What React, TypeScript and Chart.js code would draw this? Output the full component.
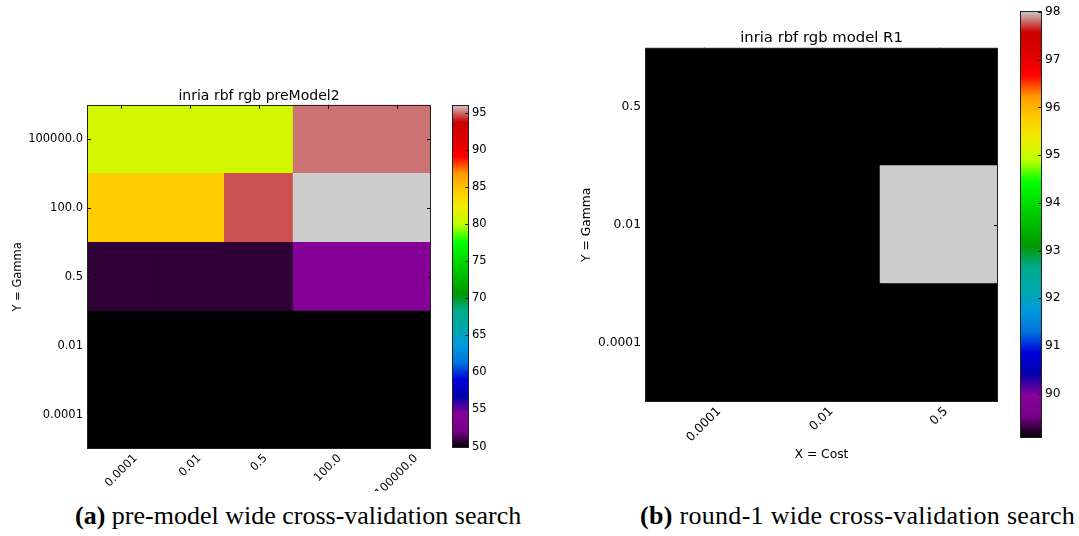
import React, { useEffect, useRef } from 'react';
import { Chart, registerables } from 'chart.js';

Chart.register(...registerables);

// ---- Panel (a): pre-model search ----
const costLabelsA = ['0.0001', '0.01', '0.5', '100.0', '100000.0'];
const gammaLabelsA = ['0.0001', '0.01', '0.5', '100.0', '100000.0']; // bottom -> top
// accuracy (%) per gamma row, columns follow costLabelsA
const accA_gamma0_0001 = [49.8, 49.8, 49.8, 49.8, 49.8];
const accA_gamma0_01 = [49.8, 49.8, 49.8, 49.8, 49.8];
const accA_gamma0_5 = [50.7, 50.7, 50.7, 54.0, 54.0];
const accA_gamma100 = [84.5, 84.5, 94.7, 96.1, 96.1];
const accA_gamma100000 = [81.0, 81.0, 81.0, 95.1, 95.1];
const colorbarTicksA = [50, 55, 60, 65, 70, 75, 80, 85, 90, 95];

// ---- Panel (b): round-1 search ----
const costLabelsB = ['0.0001', '0.01', '0.5'];
const gammaLabelsB = ['0.0001', '0.01', '0.5']; // bottom -> top
const accB_gamma0_0001 = [89.07, 89.07, 89.07];
const accB_gamma0_01 = [89.07, 89.07, 98.02];
const accB_gamma0_5 = [89.07, 89.07, 89.07];
const colorbarTicksB = [90, 91, 92, 93, 94, 95, 96, 97, 98];

const FONT = '"DejaVu Sans", sans-serif';

// nipy_spectral colormap control points: [t, r, g, b]
const NIPY: number[][] = [
  [0.0, 0.0, 0.0, 0.0],
  [0.05, 0.4667, 0.0, 0.5333],
  [0.1, 0.5333, 0.0, 0.6],
  [0.15, 0.0, 0.0, 0.6667],
  [0.2, 0.0, 0.0, 0.8667],
  [0.25, 0.0, 0.4667, 0.8667],
  [0.3, 0.0, 0.6, 0.8667],
  [0.35, 0.0, 0.6667, 0.6667],
  [0.4, 0.0, 0.6667, 0.5333],
  [0.45, 0.0, 0.6, 0.0],
  [0.5, 0.0, 0.7333, 0.0],
  [0.55, 0.0, 0.8667, 0.0],
  [0.6, 0.0, 1.0, 0.0],
  [0.65, 0.7333, 1.0, 0.0],
  [0.7, 0.9333, 0.9333, 0.0],
  [0.75, 1.0, 0.8, 0.0],
  [0.8, 1.0, 0.6, 0.0],
  [0.85, 1.0, 0.0, 0.0],
  [0.9, 0.8667, 0.0, 0.0],
  [0.95, 0.8, 0.0, 0.0],
  [1.0, 0.8, 0.8, 0.8],
];

const rgb = (r: number, g: number, b: number) =>
  `rgb(${Math.round(r * 255)},${Math.round(g * 255)},${Math.round(b * 255)})`;

function nipySpectral(t: number): string {
  const u = Math.max(0, Math.min(1, t));
  for (let i = 1; i < NIPY.length; i++) {
    const p = NIPY[i - 1];
    const q = NIPY[i];
    if (u <= q[0]) {
      const k = (u - p[0]) / (q[0] - p[0]);
      return rgb(p[1] + (q[1] - p[1]) * k, p[2] + (q[2] - p[2]) * k, p[3] + (q[3] - p[3]) * k);
    }
  }
  const l = NIPY[NIPY.length - 1];
  return rgb(l[1], l[2], l[3]);
}

// frame, inward tick marks and rotated cost labels for a heatmap
const heatmapDecor = {
  id: 'heatmapDecor',
  afterDraw(chart: any, _args: any, opts: any) {
    const { ctx, chartArea: a, scales } = chart;
    const x = scales.x;
    const y = scales.y;
    ctx.save();
    ctx.strokeStyle = '#000';
    ctx.lineWidth = 1;
    ctx.beginPath();
    opts.labels.forEach((_l: string, i: number) => {
      const px = Math.round(x.getPixelForValue(i)) + 0.5;
      ctx.moveTo(px, a.bottom);
      ctx.lineTo(px, a.bottom - 4);
      ctx.moveTo(px, a.top);
      ctx.lineTo(px, a.top + 4);
    });
    y.ticks.forEach((t: any) => {
      const py = Math.round(y.getPixelForValue(t.value)) + 0.5;
      ctx.moveTo(a.left, py);
      ctx.lineTo(a.left + 4, py);
      ctx.moveTo(a.right, py);
      ctx.lineTo(a.right - 4, py);
    });
    ctx.stroke();
    ctx.strokeStyle = '#222';
    ctx.strokeRect(Math.round(a.left) + 0.5, Math.round(a.top) + 0.5, Math.round(a.width) - 1, Math.round(a.height) - 1);

    const f = opts.tickSize;
    ctx.font = `${f}px ${FONT}`;
    ctx.fillStyle = '#000';
    ctx.textAlign = 'center';
    ctx.textBaseline = 'middle';
    opts.labels.forEach((lab: string, i: number) => {
      const w = ctx.measureText(lab).width;
      const cx = x.getPixelForValue(i);
      const cy = a.bottom + opts.labelPad + ((w + f) * Math.SQRT1_2) / 2;
      ctx.save();
      ctx.translate(cx, cy);
      ctx.rotate(-Math.PI / 4);
      ctx.fillText(lab, 0, 0);
      ctx.restore();
    });
    ctx.restore();
  },
};

// outline and inward ticks of a colorbar
const colorbarDecor = {
  id: 'colorbarDecor',
  afterDraw(chart: any, _args: any, opts: any) {
    const { ctx, chartArea: a, scales } = chart;
    const y = scales.y;
    ctx.save();
    ctx.strokeStyle = '#222';
    ctx.lineWidth = 1;
    ctx.beginPath();
    opts.ticks.forEach((v: number) => {
      const py = Math.round(y.getPixelForValue(v)) + 0.5;
      ctx.moveTo(a.right, py);
      ctx.lineTo(a.right - 4, py);
    });
    ctx.stroke();
    ctx.strokeRect(Math.round(a.left) + 0.5, Math.round(a.top) + 0.5, Math.round(a.width) - 1, Math.round(a.height) - 1);
    ctx.restore();
  },
};

type Box = { left: number; top: number; width: number; height: number };

type HeatmapProps = {
  box: Box;
  costLabels: string[];
  gammaLabels: string[];
  rows: number[][];
  title: string;
  titleSize: number;
  titlePad: { top: number; bottom: number };
  tickSize: number;
  yTitlePad: number;
  xTitle?: string;
  xTitlePad?: number;
  axisWidth: number;
  xAxisHeight: number;
  padRight: number;
  labelPad: number;
};

function Heatmap(p: HeatmapProps) {
  const ref = useRef<HTMLCanvasElement>(null);
  useEffect(() => {
    const all = p.rows.flat();
    const vmin = Math.min(...all);
    const vmax = Math.max(...all);
    const datasets = p.rows.map((row, r) => ({
      label: p.gammaLabels[r],
      data: row.map(() => 1),
      backgroundColor: row.map((v) => nipySpectral((v - vmin) / (vmax - vmin))),
      borderWidth: 0,
      inflateAmount: 0.6,
      barPercentage: 1,
      categoryPercentage: 1,
      stack: 'grid',
    }));
    const chart = new Chart(ref.current as HTMLCanvasElement, {
      type: 'bar',
      data: { labels: p.costLabels, datasets },
      plugins: [heatmapDecor],
      options: {
        animation: false,
        responsive: false,
        maintainAspectRatio: false,
        layout: { padding: { left: 0, right: p.padRight, top: 0, bottom: 0 } },
        plugins: {
          legend: { display: false },
          tooltip: { enabled: false },
          title: {
            display: true,
            fullSize: false,
            text: p.title,
            color: '#000',
            font: { family: FONT, size: p.titleSize, weight: 'normal' },
            padding: p.titlePad,
          },
          heatmapDecor: { labels: p.costLabels, tickSize: p.tickSize, labelPad: p.labelPad },
        } as any,
        scales: {
          x: {
            type: 'category',
            stacked: true,
            grid: { display: false, drawTicks: false },
            border: { display: false },
            ticks: { display: false },
            title: {
              display: !!p.xTitle,
              text: p.xTitle || '',
              color: '#000',
              font: { family: FONT, size: p.tickSize },
              padding: { top: 0, bottom: p.xTitlePad || 0 },
            },
            afterFit: (s: any) => {
              s.height = p.xAxisHeight;
            },
          },
          y: {
            type: 'linear',
            stacked: true,
            min: 0,
            max: p.gammaLabels.length,
            grid: { display: false, drawTicks: false },
            border: { display: false },
            afterBuildTicks: (axis: any) => {
              axis.ticks = p.gammaLabels.map((_g, i) => ({ value: i + 0.5 }));
            },
            ticks: {
              autoSkip: false,
              color: '#000',
              padding: 4,
              font: { family: FONT, size: p.tickSize },
              callback: (_v: any, i: number) => p.gammaLabels[i],
            },
            title: {
              display: true,
              text: 'Y = Gamma',
              color: '#000',
              font: { family: FONT, size: p.tickSize },
              padding: { top: p.yTitlePad, bottom: 0 },
            },
            afterFit: (s: any) => {
              s.width = p.axisWidth;
            },
          },
        } as any,
      },
    });
    return () => chart.destroy();
  }, []);
  return (
    <canvas
      ref={ref}
      width={p.box.width}
      height={p.box.height}
      style={{ position: 'absolute', left: p.box.left, top: p.box.top, width: p.box.width, height: p.box.height }}
    />
  );
}

type ColorbarProps = {
  box: Box;
  rows: number[][];
  ticks: number[];
  tickSize: number;
  padTop: number;
  padBottom: number;
  axisWidth: number;
};

function Colorbar(p: ColorbarProps) {
  const ref = useRef<HTMLCanvasElement>(null);
  useEffect(() => {
    const all = p.rows.flat();
    const vmin = Math.min(...all);
    const vmax = Math.max(...all);
    const chart = new Chart(ref.current as HTMLCanvasElement, {
      type: 'bar',
      data: {
        labels: [''],
        datasets: [
          {
            data: [[vmin, vmax]] as any,
            borderWidth: 0,
            barPercentage: 1,
            categoryPercentage: 1,
            backgroundColor: (c: any) => {
              const a = c.chart.chartArea;
              if (!a) return '#000';
              const g = c.chart.ctx.createLinearGradient(0, a.bottom, 0, a.top);
              NIPY.forEach((s) => g.addColorStop(s[0], rgb(s[1], s[2], s[3])));
              return g;
            },
          },
        ],
      },
      plugins: [colorbarDecor],
      options: {
        animation: false,
        responsive: false,
        maintainAspectRatio: false,
        layout: { padding: { left: 0, right: 0, top: p.padTop, bottom: p.padBottom } },
        plugins: {
          legend: { display: false },
          tooltip: { enabled: false },
          colorbarDecor: { ticks: p.ticks },
        } as any,
        scales: {
          x: { display: false },
          y: {
            position: 'right',
            min: vmin,
            max: vmax,
            grid: { display: false, drawTicks: false },
            border: { display: false },
            afterBuildTicks: (axis: any) => {
              axis.ticks = p.ticks.map((v) => ({ value: v }));
            },
            ticks: {
              autoSkip: false,
              color: '#000',
              padding: 3,
              font: { family: FONT, size: p.tickSize },
              callback: (v: any) => String(v),
            },
            afterFit: (s: any) => {
              s.width = p.axisWidth;
            },
          },
        } as any,
      },
    });
    return () => chart.destroy();
  }, []);
  return (
    <canvas
      ref={ref}
      width={p.box.width}
      height={p.box.height}
      style={{ position: 'absolute', left: p.box.left, top: p.box.top, width: p.box.width, height: p.box.height }}
    />
  );
}

const captionStyle: React.CSSProperties = {
  position: 'absolute',
  top: 502.5,
  fontFamily: '"Liberation Serif", "Times New Roman", serif',
  fontSize: 26,
  lineHeight: '26px',
  whiteSpace: 'nowrap',
  color: '#000',
};

export default function App() {
  const rowsA = [accA_gamma0_0001, accA_gamma0_01, accA_gamma0_5, accA_gamma100, accA_gamma100000];
  const rowsB = [accB_gamma0_0001, accB_gamma0_01, accB_gamma0_5];
  return (
    <div
      style={{
        position: 'fixed',
        left: 0,
        top: 0,
        width: 1079,
        height: 536,
        overflow: 'hidden',
        background: '#fff',
      }}
    >
      <Heatmap
        box={{ left: 0, top: 80, width: 440, height: 411 }}
        costLabels={costLabelsA}
        gammaLabels={gammaLabelsA}
        rows={rowsA}
        title="inria rbf rgb preModel2"
        titleSize={14}
        titlePad={{ top: 8, bottom: 0 }}
        tickSize={11.5}
        yTitlePad={11}
        axisWidth={87}
        xAxisHeight={42}
        padRight={9}
        labelPad={3.5}
      />
      <Colorbar
        box={{ left: 452, top: 95, width: 57, height: 364 }}
        rows={rowsA}
        ticks={colorbarTicksA}
        tickSize={11.5}
        padTop={10}
        padBottom={11}
        axisWidth={40}
      />
      <Heatmap
        box={{ left: 570, top: 0, width: 430, height: 470 }}
        costLabels={costLabelsB}
        gammaLabels={gammaLabelsB}
        rows={rowsB}
        title="inria rbf rgb model R1"
        titleSize={14.8}
        titlePad={{ top: 29, bottom: 1 }}
        tickSize={12.3}
        yTitlePad={9.6}
        xTitle="X = Cost"
        xTitlePad={7.6}
        axisWidth={75}
        xAxisHeight={68}
        padRight={2}
        labelPad={3}
      />
      <Colorbar
        box={{ left: 1020, top: 0, width: 59, height: 450 }}
        rows={rowsB}
        ticks={colorbarTicksB}
        tickSize={12.3}
        padTop={11}
        padBottom={12}
        axisWidth={37}
      />
      <div style={{ ...captionStyle, left: 75 }}>
        <b>(a)</b> pre-model wide cross-validation search
      </div>
      <div style={{ ...captionStyle, left: 640, letterSpacing: 0.3 }}>
        <b>(b)</b> round-1 wide cross-validation search
      </div>
    </div>
  );
}
